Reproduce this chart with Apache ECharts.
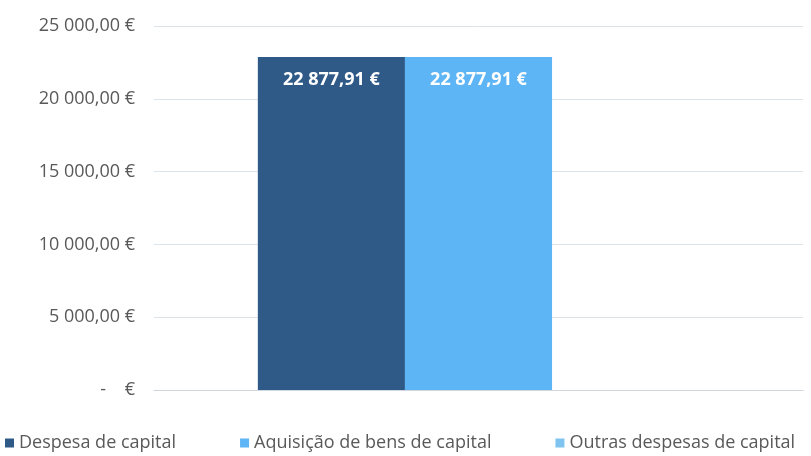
<!DOCTYPE html>
<html>
<head>
<meta charset="utf-8">
<script src="https://cdn.jsdelivr.net/npm/echarts@6/dist/echarts.min.js"></script>
<style>
  html, body { margin: 0; padding: 0; background: #fff; }
  #chart { width: 811px; height: 456px; }
</style>
</head>
<body>
<div id="chart"></div>
<script>
// Dados do gráfico
const CATEGORIES = [''];
const SERIES_NAMES = ['Despesa de capital', 'Aquisição de bens de capital', 'Outras despesas de capital'];
const SERIES_VALUES = [[22877.91], [22877.91], [0]];
const SERIES_COLORS = ['#2f5a88', '#5db5f5', '#7fc3f0'];

const chart = echarts.init(document.getElementById('chart'));

// formato português: 22 877,91 €
function fmtEuro(v) {
  if (v === 0) return '-    €';
  const parts = v.toFixed(2).split('.');
  const int = parts[0].replace(/\B(?=(\d{3})+(?!\d))/g, ' ');
  return int + ',' + parts[1] + ' €';
}

const FONT = 'Open Sans';

const series = SERIES_NAMES.map((name, i) => ({
  name: name,
  type: 'bar',
  data: SERIES_VALUES[i],
  barGap: '0%',
  barCategoryGap: '32%',
  itemStyle: { color: SERIES_COLORS[i] },
  label: {
    show: SERIES_VALUES[i][0] > 0,
    position: 'insideTop',
    distance: 14,
    color: '#fff',
    fontWeight: 'bold',
    fontSize: 18,
    fontFamily: FONT,
    formatter: p => fmtEuro(p.value)
  }
}));

chart.setOption({
  animation: false,
  grid: { left: 154, right: 8, top: 26, bottom: 66 },
  legend: {
    bottom: 4,
    left: 5,
    padding: 0,
    itemWidth: 9,
    itemHeight: 9,
    itemGap: 64,
    icon: 'rect',
    textStyle: { color: '#595959', fontSize: 18, fontFamily: FONT },
    data: SERIES_NAMES
  },
  xAxis: {
    type: 'category',
    data: CATEGORIES,
    axisLine: { lineStyle: { color: '#d0d6de' } },
    axisTick: { show: false },
    axisLabel: { show: false }
  },
  yAxis: {
    type: 'value',
    min: 0,
    max: 25000,
    interval: 5000,
    axisLine: { show: false },
    axisTick: { show: false },
    splitLine: { lineStyle: { color: '#dde3ea' } },
    axisLabel: {
      margin: 19,
      color: '#595959',
      fontSize: 18,
      fontFamily: FONT,
      formatter: v => fmtEuro(v)
    }
  },
  series: series
});
</script>
</body>
</html>
